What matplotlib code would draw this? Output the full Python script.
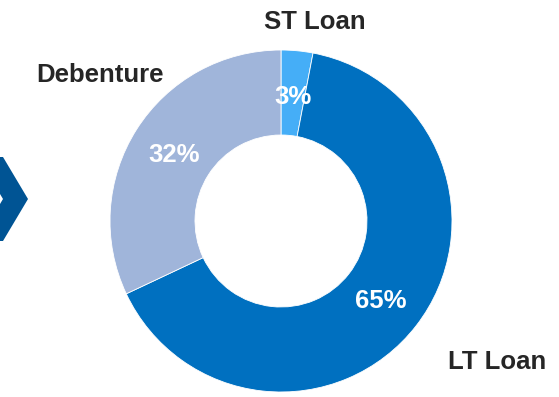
import matplotlib
matplotlib.use("Agg")
import matplotlib.pyplot as plt
from matplotlib.patches import Polygon

categories = ["ST Loan", "LT Loan", "Debenture"]
shares = [3, 65, 32]
colors = ["#45aef7", "#0070c0", "#a0b5da"]

W, H = 559, 397
plt.rcParams["font.family"] = ["Liberation Sans", "DejaVu Sans"]

fig = plt.figure(figsize=(W / 100, H / 100), dpi=100)
ax = fig.add_axes([0, 0, 1, 1])

# pixel-style coordinates, y measured from the top
def py(y):
    return H - y

wedges, _, pcts = ax.pie(
    shares, colors=colors, startangle=90, counterclock=False,
    radius=171, center=(281, py(221)),
    autopct="%.0f%%", pctdistance=0.74,
    wedgeprops=dict(width=85, edgecolor="white", linewidth=0.6),
    textprops=dict(color="white", fontsize=18.5, fontweight="bold"),
)
for t in pcts:
    t.set_y(t.get_position()[1] - 2)

label_pos = {"ST Loan": (315, 22), "LT Loan": (497, 362), "Debenture": (100, 75)}
for name in categories:
    x, y = label_pos[name]
    ax.text(x, py(y), name, ha="center", va="center", fontsize=18.5,
            fontweight="bold", color="#262626")

# chevron marker on the left edge
chev = [(-22, 157), (3, 157), (28, 199), (3, 241), (-22, 241), (3, 199)]
ax.add_patch(Polygon([(x, py(y)) for x, y in chev], closed=True,
                     facecolor="#005494", edgecolor="none"))

ax.set_xlim(0, W)
ax.set_ylim(0, H)
ax.set_aspect("equal")
ax.axis("off")
fig.savefig("out.png", dpi=100)
